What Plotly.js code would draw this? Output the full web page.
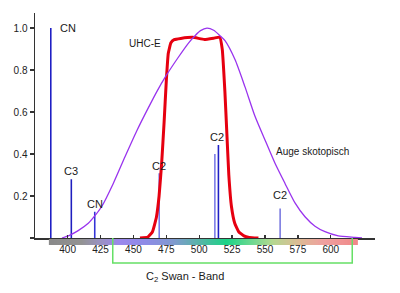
<!DOCTYPE html>
<html>
<head>
<meta charset="utf-8">
<script src="https://cdn.plot.ly/plotly-3.0.1.min.js"></script>
<style>
  html, body { margin: 0; padding: 0; background: #fff; }
  #chart { width: 400px; height: 293px; }
</style>
</head>
<body>
<div id="chart"></div>
<script>
// Emission lines of comets (nm) and their relative intensity
const lineNm    = [387.2, 402.8, 420.6, 469.6, 511.9, 514.6, 561.5];
const lineRel   = [1.0,   0.28,  0.125, 0.308, 0.40,  0.443, 0.14];
const lineColor = ['#1f1fc4', '#1f1fbf', '#3333d6', '#7777e8', '#7a7ae8', '#1f1fc4', '#7a7ae0'];

// Line labels and which lines each label belongs to
const bandLabels = ['CN', 'C3', 'CN', 'C2', 'C2', 'C2'];
const bandGroups = [[0], [1], [2], [3], [4, 5], [6]];

// UHC-E filter transmission
const filterNm = [455, 461, 464.5, 467.5, 469.5, 471.5, 473.3, 475, 476.5, 478.5, 481, 486, 495, 504, 511, 515.6,
                  517.5, 519.5, 521, 522.5, 524.5, 527, 530, 534, 538, 545];
const filterT  = [0, 0.005, 0.03, 0.1, 0.2, 0.36, 0.55, 0.75, 0.88, 0.93, 0.945, 0.951, 0.956, 0.946, 0.952, 0.957,
                  0.9, 0.7, 0.5, 0.3, 0.15, 0.07, 0.03, 0.01, 0.003, 0];

// Scotopic eye sensitivity
const eyeNm = [395.7, 401.8, 408, 415.7, 420.6, 425.9, 434.7, 443.6, 452.5, 461.3, 468, 474.5, 484, 492, 497,
               501, 505.9, 511, 516.1, 519.6, 527.2, 534.8, 542.4, 550, 557.6, 565.2, 572.8, 580.4, 588, 595.6,
               605.7, 618.4, 623.7];
const eyeV  = [0, 0.014, 0.035, 0.07, 0.105, 0.15, 0.26, 0.387, 0.51, 0.62, 0.7, 0.77, 0.86, 0.93, 0.965,
               0.988, 1.0, 0.99, 0.962, 0.94, 0.85, 0.72, 0.58, 0.467, 0.356, 0.26, 0.167, 0.101, 0.056, 0.03,
               0.01, 0.003, 0];

// Spectrum strip under the axis
const stripNm    = [386.5, 388, 410, 425, 440, 460, 480, 500, 520, 540, 555, 575, 595, 618.5, 620];
const stripColor = ['#8a8a8a', '#8a8a8a', '#939393', '#9a92c4', '#9a88ec', '#8e8ce6', '#809ad0', '#58b4a8',
                    '#1cd488', '#70d890', '#b4d890', '#dcbc94', '#f0a0a0', '#f08a8a', '#f08a8a'];

// C2 Swan band extent
const swanBand = [434.3, 616.3];

const xTicks = [400, 425, 450, 475, 500, 525, 550, 575, 600];
const yTicks = [0, 0.2, 0.4, 0.6, 0.8, 1.0];

const stripIdx = stripNm.map((_, i) => i);
const stripScale = stripColor.map((c, i) => [i / (stripColor.length - 1), c]);

const traces = [
  {
    type: 'heatmap', x: stripNm, y: [0], z: [stripIdx],
    xaxis: 'x', yaxis: 'y2', zsmooth: 'best', showscale: false,
    colorscale: stripScale, zmin: 0, zmax: stripNm.length - 1, hoverinfo: 'skip'
  },
  {
    type: 'bar', x: lineNm, y: lineRel, width: lineNm.map(() => 1.2),
    marker: { color: lineColor, line: { width: 0 } }, xaxis: 'x', yaxis: 'y'
  },
  {
    type: 'scatter', mode: 'lines', x: filterNm, y: filterT,
    line: { color: '#e60010', width: 3, shape: 'spline', smoothing: 0.35 }
  },
  {
    type: 'scatter', mode: 'lines', x: eyeNm, y: eyeV,
    line: { color: '#9933ee', width: 1.3, shape: 'spline', smoothing: 0.6 }
  }
];

const txtFont = { family: 'Liberation Sans, Arial, sans-serif', size: 11, color: '#1a1a1a' };
const labelShift = [[17, 0], [0, 8], [0, 8], [0, 7.5], [0, 8.5], [0, 14]];

const annotations = bandLabels.map((t, k) => {
  const g = bandGroups[k];
  const x = g.reduce((s, i) => s + lineNm[i], 0) / g.length;
  const y = Math.max(...g.map(i => lineRel[i]));
  return {
    text: t, x: x, y: y, xref: 'x', yref: 'y', showarrow: false,
    xanchor: 'center', yanchor: 'middle',
    xshift: labelShift[k][0], yshift: labelShift[k][1], font: txtFont
  };
});
annotations.push(
  { text: 'UHC-E', x: 458.8, y: 0.926, xref: 'x', yref: 'y', showarrow: false,
    xanchor: 'center', yanchor: 'middle', font: Object.assign({}, txtFont, { size: 10 }) },
  { text: 'Auge skotopisch', x: 586.1, y: 0.41, xref: 'x', yref: 'y', showarrow: false,
    xanchor: 'center', yanchor: 'middle', font: Object.assign({}, txtFont, { size: 10 }) },
  { text: 'C<sub>2</sub> Swan - Band', x: 0.441, y: -0.056, xref: 'paper', yref: 'paper',
    xanchor: 'center', yanchor: 'middle', showarrow: false, font: txtFont }
);

const layout = {
  width: 400, height: 293,
  margin: { l: 35, r: 25, t: 13, b: 30 },
  paper_bgcolor: '#ffffff', plot_bgcolor: 'rgba(0,0,0,0)',
  showlegend: false,
  font: { family: 'Liberation Sans, Arial, sans-serif', size: 10, color: '#222' },
  xaxis: {
    range: [375.2, 633.6], anchor: 'y', showgrid: false, zeroline: false,
    showline: true, linecolor: '#333', linewidth: 1.5,
    ticks: 'inside', ticklen: 3, tickwidth: 1.3, tickcolor: '#333',
    tickvals: xTicks, ticklabelstandoff: 1,
    tickfont: { size: 10, color: '#222' }
  },
  yaxis: {
    domain: [0.1, 1], range: [0, 1.072], anchor: 'x',
    showgrid: false, zeroline: false,
    showline: true, linecolor: '#333', linewidth: 1.5,
    ticks: 'outside', ticklen: 4, tickwidth: 1.3, tickcolor: '#333',
    tickvals: yTicks, ticktext: yTicks.map(v => v === 0 ? ' ' : v.toFixed(1)),
    tickfont: { size: 10, color: '#222' }
  },
  yaxis2: {
    domain: [0.072, 0.096], range: [-0.5, 0.5], anchor: 'x', visible: false, fixedrange: true
  },
  shapes: [
    {
      type: 'path', xref: 'x', yref: 'paper', layer: 'above',
      path: `M ${swanBand[0]} 0.1 L ${swanBand[0]} 0 L ${swanBand[1]} 0 L ${swanBand[1]} 0.1`,
      line: { color: '#66e066', width: 1.5 }
    }
  ],
  annotations: annotations
};

Plotly.newPlot('chart', traces, layout, { staticPlot: true, displayModeBar: false });
</script>
</body>
</html>
